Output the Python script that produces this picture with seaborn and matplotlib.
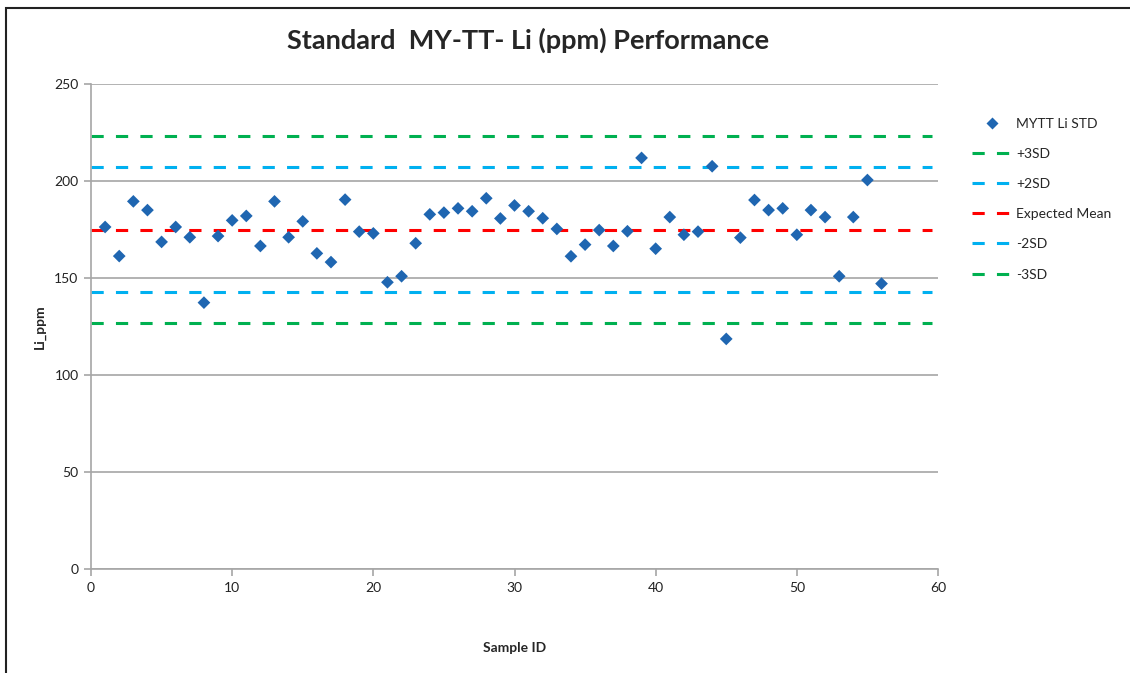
import numpy as np
import pandas as pd
import matplotlib
matplotlib.use('Agg')
import matplotlib.pyplot as plt
from matplotlib.lines import Line2D
from matplotlib.patches import Rectangle
import seaborn as sns

# sample values
sample_id = list(range(1, 57))
li_ppm = [176.3, 161.3, 189.5, 185.0, 168.6, 176.3, 171.0, 137.3, 171.6, 179.7,
          182.0, 166.5, 189.5, 171.0, 179.2, 162.7, 158.2, 190.4, 173.9, 173.0,
          147.8, 150.9, 167.9, 182.8, 183.7, 185.9, 184.4, 191.1, 180.7, 187.4,
          184.4, 180.8, 175.3, 161.2, 167.2, 174.7, 166.5, 174.1, 211.9, 165.1,
          181.4, 172.3, 173.9, 207.6, 118.6, 170.8, 190.2, 185.0, 185.9, 172.3,
          185.0, 181.4, 150.9, 181.4, 200.5, 147.1]

# control limits
limit_names = ['+3SD', '+2SD', 'Expected Mean', '-2SD', '-3SD']
limit_values = [223, 207, 175, 143, 127]
limit_colors = ['#00b050', '#00b0f0', '#ff0000', '#00b0f0', '#00b050']

sns.set_style('white')
plt.rcParams['font.family'] = ['Lato', 'DejaVu Sans']

df = pd.DataFrame({'Sample ID': sample_id, 'Li_ppm': li_ppm})

fig = plt.figure(figsize=(11.3, 6.73), dpi=100)
ax = fig.add_axes([91/1130, 1-569/673, (938-91)/1130, (569-84)/673])

for name, val, col in zip(limit_names, limit_values, limit_colors):
    ax.hlines(val, 0, 59.6, colors=col, linestyles=(0, (4, 4)), linewidth=2.2, zorder=2)

sns.scatterplot(data=df, x='Sample ID', y='Li_ppm', marker='D', s=42,
                color='#1f66b1', edgecolor='none', ax=ax, zorder=3, legend=False)

ax.set_xlim(0, 60)
ax.set_ylim(0, 250)
ax.set_xticks(range(0, 61, 10))
ax.set_yticks(range(0, 251, 50))
ax.yaxis.grid(True, color='#a6a6a6', linewidth=1.2)
ax.xaxis.grid(False)
ax.set_axisbelow(True)
for s in ['top', 'right']:
    ax.spines[s].set_visible(False)
for s in ['left', 'bottom']:
    ax.spines[s].set_color('#a6a6a6')
    ax.spines[s].set_linewidth(1.2)
ax.tick_params(axis='both', which='both', direction='out', length=5, width=1.2,
               color='#a6a6a6', labelsize=10, labelcolor='#222222', pad=4, left=True, bottom=True)

ax.set_xlabel('Sample ID', fontsize=10, fontweight='bold', labelpad=35)
ax.set_ylabel('Li_ppm', fontsize=10, fontweight='bold', labelpad=6)

fig.text(528/1130, 1-40/673, 'Standard  MY-TT- Li (ppm) Performance',
         ha='center', va='center', fontsize=19.5, fontweight='bold')

handles = [Line2D([], [], linestyle='none', marker='D', markersize=6,
                  color='#1f66b1', markeredgecolor='none')]
for name, col in zip(limit_names, limit_colors):
    handles.append(Line2D([], [], color=col, linestyle=(0, (4, 4)), linewidth=2.2))
labels = ['MYTT Li STD'] + limit_names
leg = fig.legend(handles, labels, loc='upper left', bbox_to_anchor=(966/1130, 1-112/673),
                 frameon=False, fontsize=10, handlelength=3.0, handletextpad=0.2,
                 labelspacing=1.31, borderaxespad=0)

# screenshot frame (left and top edges)
fig.patches.append(Rectangle((6/1130, -0.1), 1.2, 1 - 8/673 + 0.1, transform=fig.transFigure,
                             fill=False, edgecolor='#222222', linewidth=1.5))

fig.savefig('out.png', dpi=100)
